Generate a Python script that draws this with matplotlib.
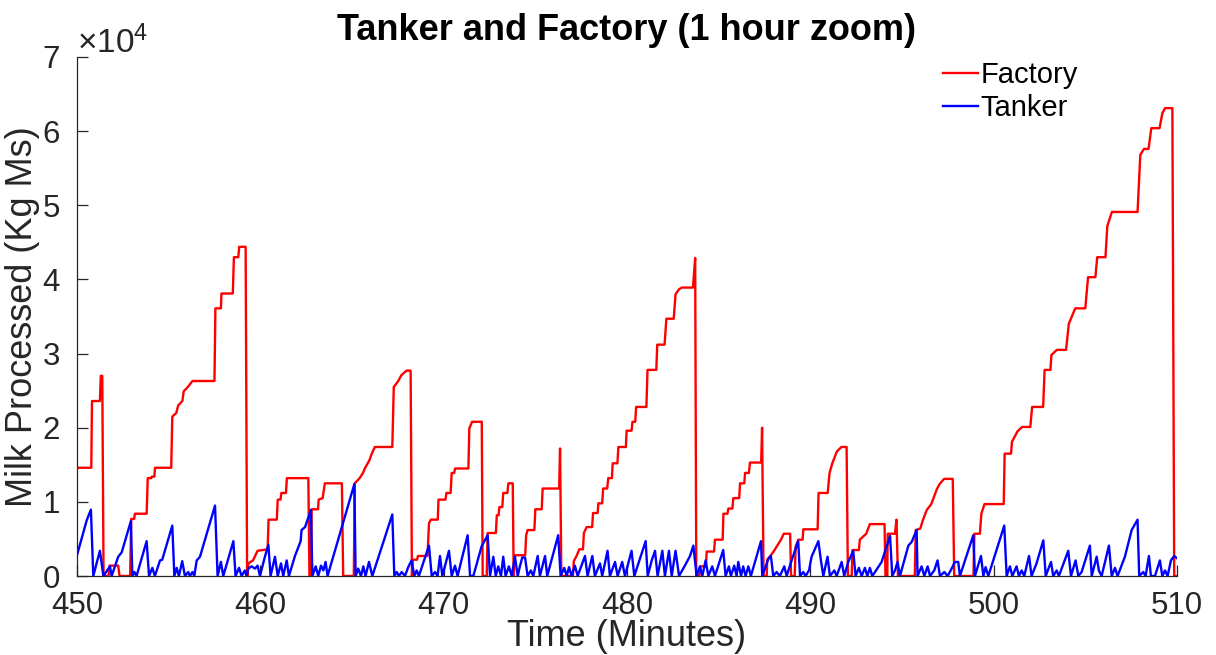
import matplotlib
matplotlib.use('Agg')
from matplotlib import pyplot as plt

# Factory: milk processed (Kg Ms) against time (minutes)
factory_t = [
  450.00, 450.78, 450.82, 451.25, 451.30, 451.38, 451.45, 451.72, 451.78, 452.25,
  452.32, 452.90, 452.96, 453.12, 453.16, 453.80, 453.86, 454.05, 454.08, 454.22,
  454.26, 455.14, 455.20, 455.42, 455.52, 455.75, 455.82, 456.05, 456.30, 457.50,
  457.55, 457.85, 457.88, 458.50, 458.56, 458.80, 458.85, 459.20, 459.28, 459.30,
  459.35, 459.60, 459.85, 460.40, 460.45, 460.90, 460.95, 461.10, 461.15, 461.40,
  461.45, 462.62, 462.68, 462.78, 462.80, 463.15, 463.18, 463.40, 463.52, 464.45,
  464.52, 465.10, 465.15, 465.42, 465.60, 465.70, 465.95, 466.08, 466.25, 467.20,
  467.28, 467.50, 467.70, 467.98, 468.20, 468.27, 468.32, 468.55, 468.60, 469.12,
  469.20, 469.30, 469.68, 469.72, 470.10, 470.15, 470.38, 470.44, 470.58, 470.62,
  471.35, 471.40, 471.55, 472.08, 472.13, 472.35, 472.40, 472.85, 472.90, 473.00,
  473.04, 473.20, 473.25, 473.48, 473.53, 473.77, 473.82, 473.88, 474.45, 474.50,
  474.58, 474.95, 475.00, 475.35, 475.40, 476.30, 476.35, 476.42, 477.05, 477.10,
  477.25, 477.40, 477.60, 477.65, 477.80, 478.10, 478.15, 478.40, 478.44, 478.65,
  478.70, 478.92, 478.98, 479.18, 479.22, 479.48, 479.53, 479.94, 479.98, 480.25,
  480.30, 480.45, 480.50, 481.06, 481.12, 481.60, 481.65, 482.05, 482.15, 482.55,
  482.65, 482.85, 483.00, 483.60, 483.72, 483.78, 483.95, 484.00, 484.30, 484.35,
  484.75, 484.80, 485.22, 485.26, 485.48, 485.53, 485.75, 485.80, 486.12, 486.17,
  486.40, 486.44, 486.65, 486.71, 487.32, 487.37, 487.45, 487.62, 487.65, 487.85,
  488.05, 488.40, 488.55, 488.90, 488.95, 489.15, 489.20, 489.35, 489.58, 489.62,
  490.40, 490.45, 490.95, 491.05, 491.20, 491.45, 491.70, 491.98, 492.05, 492.26,
  492.30, 492.65, 492.70, 493.05, 493.25, 494.05, 494.10, 494.20, 494.22, 494.62,
  494.70, 494.78, 495.70, 495.75, 496.00, 496.15, 496.35, 496.60, 496.90, 497.05,
  497.30, 497.77, 497.85, 498.90, 498.95, 499.25, 499.33, 499.50, 500.55, 500.60,
  500.95, 501.00, 501.30, 501.55, 502.00, 502.10, 502.70, 502.78, 503.10, 503.15,
  503.45, 503.95, 504.10, 504.45, 505.00, 505.15, 505.55, 505.65, 506.10, 506.20,
  506.45, 507.85, 508.00, 508.20, 508.45, 508.60, 509.05, 509.20, 509.35, 509.75,
  509.85, 510.00]
factory_kg = [
  14600, 14600, 23600, 23600, 27000, 27000, 0, 0, 1400, 1400,
  0, 0, 7700, 7700, 8400, 8400, 13200, 13200, 13400, 13400,
  14600, 14600, 21500, 22000, 23000, 23600, 24900, 25500, 26300, 26300,
  36100, 36100, 38100, 38100, 43000, 43000, 44400, 44400, 0, 0,
  1700, 2100, 3400, 3600, 7600, 7600, 10300, 10300, 11200, 11200,
  13200, 13200, 0, 0, 9000, 9000, 10300, 10500, 12500, 12500,
  0, 0, 12500, 13200, 13900, 14500, 15600, 16500, 17400, 17400,
  25500, 26200, 27100, 27700, 27700, 0, 2200, 2200, 2700, 2700,
  7100, 7600, 7600, 10300, 10300, 11200, 11200, 13900, 13900, 14500,
  14500, 19900, 20800, 20800, 0, 0, 5800, 5800, 8200, 8200,
  9300, 9300, 11200, 11200, 12500, 12500, 0, 2800, 2800, 5500,
  6200, 6200, 9000, 9000, 11800, 11800, 17200, 0, 0, 2000,
  2700, 3600, 3600, 5800, 6600, 6600, 8500, 8500, 9800, 9800,
  11800, 11800, 13200, 13200, 15200, 15200, 17400, 17400, 19600, 19600,
  20800, 20800, 22800, 22800, 27800, 27800, 31200, 31200, 34700, 34700,
  38000, 38700, 38900, 38900, 42900, 0, 0, 1300, 1300, 3300,
  3300, 4900, 4900, 8400, 8400, 9100, 9100, 10500, 10500, 12500,
  12500, 13900, 13900, 15300, 15300, 20000, 0, 0, 2200, 2800,
  3500, 4900, 5700, 5700, 0, 0, 4000, 4900, 4900, 6300,
  6300, 11200, 11200, 13900, 15200, 16800, 17400, 17400, 0, 0,
  3500, 3500, 4900, 5700, 7000, 7000, 0, 0, 5700, 5700,
  7600, 0, 0, 6200, 6400, 7600, 8900, 9700, 11700, 12400,
  13100, 13100, 0, 0, 5700, 5700, 8400, 9700, 9700, 16500,
  16500, 18100, 19500, 20100, 20100, 22800, 22800, 27800, 27800, 29800,
  30500, 30500, 34000, 36100, 36100, 40300, 40300, 43000, 43000, 47200,
  49100, 49100, 56800, 57600, 57600, 60400, 60400, 62400, 63100, 63100,
  0, 0]

# Tanker: milk on the tanker (Kg Ms)
tanker_t = [
  450.00, 450.53, 450.76, 450.89, 451.25, 451.44, 451.80, 451.89, 452.25, 452.44,
  452.94, 453.02, 453.13, 453.25, 453.80, 453.93, 454.11, 454.25, 454.53, 454.65,
  455.20, 455.31, 455.44, 455.56, 455.74, 455.89, 456.07, 456.16, 456.30, 456.40,
  456.53, 456.71, 457.53, 457.67, 457.85, 457.98, 458.53, 458.65, 458.84, 458.98,
  459.16, 459.25, 459.34, 459.53, 459.71, 459.85, 459.98, 460.25, 460.44, 460.56,
  460.80, 460.95, 461.13, 461.25, 461.44, 461.56, 461.89, 462.20, 462.25, 462.44,
  462.76, 462.84, 463.02, 463.16, 463.31, 463.44, 463.56, 463.67, 465.13, 465.20,
  465.34, 465.49, 465.62, 465.74, 465.93, 466.11, 467.20, 467.31, 467.44, 467.56,
  467.71, 467.89, 468.07, 468.25, 468.40, 468.53, 468.65, 469.20, 469.35, 469.53,
  469.67, 469.80, 469.93, 470.11, 470.29, 470.44, 470.62, 470.76, 471.31, 471.44,
  471.62, 472.07, 472.40, 472.53, 472.71, 472.84, 472.98, 473.13, 473.25, 473.38,
  473.56, 473.71, 473.89, 474.04, 474.16, 474.29, 474.44, 474.58, 474.76, 474.89,
  475.13, 475.25, 475.53, 475.65, 476.25, 476.38, 476.58, 476.71, 476.84, 476.98,
  477.16, 477.31, 477.71, 477.85, 478.11, 478.25, 478.53, 478.65, 478.94, 479.07,
  479.35, 479.49, 479.74, 479.89, 480.25, 480.40, 481.02, 481.13, 481.35, 481.53,
  481.67, 481.93, 482.07, 482.29, 482.44, 482.65, 482.84, 483.16, 483.44, 483.62,
  483.80, 483.98, 484.11, 484.29, 484.44, 484.65, 484.80, 485.25, 485.38, 485.56,
  485.67, 485.85, 485.98, 486.07, 486.22, 486.34, 486.47, 486.62, 486.76, 487.31,
  487.38, 487.71, 487.85, 487.98, 488.16, 488.34, 488.58, 488.71, 488.98, 489.34,
  489.44, 489.62, 489.74, 489.93, 490.07, 490.44, 490.58, 490.71, 490.94, 491.07,
  491.31, 491.44, 491.71, 491.85, 492.07, 492.34, 492.47, 492.65, 492.80, 492.98,
  493.11, 493.25, 493.38, 493.53, 493.89, 494.35, 494.47, 494.62, 494.76, 494.89,
  495.35, 495.53, 495.80, 495.85, 496.07, 496.22, 496.40, 496.53, 496.76, 496.94,
  497.07, 497.31, 497.49, 497.71, 497.89, 498.07, 498.16, 498.89, 498.98, 499.31,
  499.44, 499.56, 499.71, 500.58, 500.71, 500.89, 501.02, 501.25, 501.38, 501.53,
  501.67, 501.93, 502.07, 502.34, 502.71, 502.84, 503.13, 503.25, 503.44, 503.56,
  504.07, 504.22, 504.47, 504.62, 504.80, 505.25, 505.35, 505.62, 505.74, 505.89,
  506.29, 506.44, 506.62, 506.76, 507.16, 507.53, 507.85, 507.94, 508.16, 508.29,
  508.47, 508.58, 508.80, 509.07, 509.20, 509.35, 509.49, 509.67, 509.85, 510.00]
tanker_kg = [
  2800, 7500, 8950, 0, 3400, 0, 1300, 0, 2600, 3200,
  7400, 0, 540, 0, 4700, 0, 1100, 0, 2100, 2200,
  6800, 0, 1100, 0, 2000, 0, 540, 0, 540, 0,
  2100, 2600, 9500, 0, 1900, 0, 4700, 0, 1100, 0,
  750, 0, 1000, 1300, 1000, 1400, 0, 2600, 4200, 0,
  2600, 0, 1700, 0, 2100, 0, 2700, 4700, 6200, 6600,
  8900, 0, 1300, 0, 1400, 750, 1900, 0, 12400, 0,
  1000, 0, 1300, 0, 1900, 0, 8300, 0, 540, 0,
  540, 0, 1200, 2100, 0, 750, 0, 4100, 0, 540,
  0, 2700, 0, 1700, 3400, 0, 1400, 0, 5500, 0,
  0, 4000, 5500, 0, 2600, 0, 1300, 0, 2600, 0,
  1300, 0, 2600, 0, 1300, 2500, 2500, 0, 750, 0,
  2700, 0, 2700, 0, 5500, 0, 1100, 0, 1200, 0,
  1400, 0, 2700, 0, 2700, 0, 1700, 0, 3400, 0,
  1900, 0, 1900, 0, 3400, 0, 4700, 0, 2100, 3400,
  0, 3400, 0, 3400, 0, 3400, 0, 1400, 2700, 4100,
  0, 1300, 0, 2100, 0, 1300, 0, 3500, 0, 1300,
  0, 1400, 0, 1900, 0, 1300, 0, 1300, 0, 4700,
  0, 2300, 2700, 0, 540, 0, 1300, 0, 2100, 4700,
  0, 540, 0, 750, 2600, 4700, 2100, 0, 2600, 0,
  750, 0, 1900, 0, 1900, 3400, 0, 1100, 0, 1100,
  0, 1100, 0, 540, 1900, 5400, 0, 750, 1900, 0,
  4100, 4600, 6200, 0, 1300, 0, 1300, 0, 750, 2100,
  0, 540, 0, 1000, 1900, 1900, 0, 5500, 0, 2700,
  0, 1200, 0, 6800, 0, 1300, 0, 1300, 0, 750,
  0, 2700, 0, 1700, 4800, 0, 1900, 0, 750, 0,
  3400, 0, 2100, 0, 540, 4100, 0, 2600, 750, 0,
  4100, 0, 1100, 0, 2600, 6200, 7600, 0, 540, 0,
  2700, 0, 0, 2100, 0, 750, 0, 2100, 2700, 2400]

x_ticks = [450, 460, 470, 480, 490, 500, 510]
y_ticks = [0, 10000, 20000, 30000, 40000, 50000, 60000, 70000]


def plot_milk():
  plt.rcParams['font.family'] = ['Liberation Sans', 'DejaVu Sans']
  plt.rcParams['mathtext.fontset'] = 'custom'
  plt.rcParams['mathtext.rm'] = 'Liberation Sans'
  plt.rcParams['mathtext.it'] = 'Liberation Sans:italic'

  grey = '#262626'
  fig = plt.figure(figsize=(12.16, 6.55), dpi=100)
  ax = fig.add_axes([0.0633, 0.1206, 0.9046, 0.7924])

  ax.plot(factory_t, factory_kg, '-', color=(1, 0, 0), lw=1.7, label='Factory')
  ax.plot(tanker_t, tanker_kg, '-', color=(0, 0, 1), lw=1.7, label='Tanker')

  ax.set_xlim(450, 510)
  ax.set_ylim(0, 70000)
  ax.set_xticks(x_ticks)
  ax.set_yticks(y_ticks)
  ax.ticklabel_format(axis='y', style='sci', scilimits=(4, 4), useMathText=True)

  # matlab style box off
  ax.spines['top'].set_visible(False)
  ax.spines['right'].set_visible(False)
  for s in ['left', 'bottom']:
    ax.spines[s].set_color(grey)
    ax.spines[s].set_linewidth(0.9)
  ax.tick_params(axis='both', direction='in', length=8, width=0.9, colors=grey, labelsize=22.5)
  ax.tick_params(axis='x', pad=11)
  ax.tick_params(axis='y', pad=12)
  ax.yaxis.get_offset_text().set_fontsize(24)
  ax.yaxis.get_offset_text().set_color(grey)

  ax.set_xlabel('Time (Minutes)', fontsize=26, color=grey, labelpad=-2)
  ax.set_ylabel('Milk Processed (Kg Ms)', fontsize=26, color=grey, labelpad=1)
  ax.set_title('Tanker and Factory (1 hour zoom)', fontsize=26, fontweight='bold', pad=12)

  ax.legend(loc='upper left', bbox_to_anchor=(0.787, 0.992), frameon=False, fontsize=21,
            handlelength=1.2, handletextpad=0.1, labelspacing=0.18, borderpad=0, borderaxespad=0)

  plt.savefig('out.png', dpi=100)


if __name__ == '__main__':
  plot_milk()
